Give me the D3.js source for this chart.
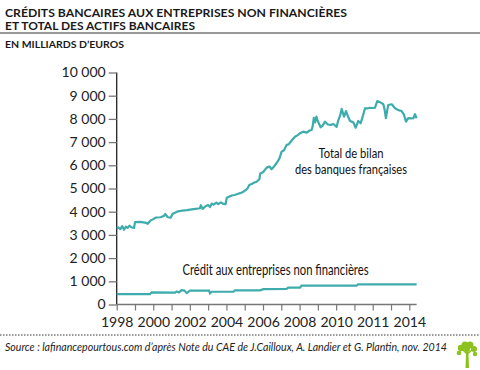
<!DOCTYPE html>
<html>
<head>
<meta charset="utf-8">
<script src="https://cdn.jsdelivr.net/npm/d3@7"></script>
<style>
  body { margin: 0; background: #fff; }
  svg { display: block; }
</style>
</head>
<body>
<svg id="chart" width="480" height="370" viewBox="0 0 480 370"></svg>
<script>
// Total de bilan des banques françaises (Md€), [année, valeur]
const totalBilan = [
  [1998.00,3280],[1998.10,3320],[1998.20,3250],[1998.30,3380],[1998.40,3220],[1998.50,3350],
  [1998.60,3300],[1998.70,3400],[1998.80,3330],[1998.95,3300],[1999.00,3550],[1999.30,3560],
  [1999.60,3520],[1999.70,3480],[1999.85,3620],[2000.00,3680],[2000.15,3750],[2000.40,3760],
  [2000.60,3830],[2000.65,3900],[2000.80,3760],[2000.95,3740],[2001.05,3900],[2001.30,4000],
  [2001.60,4050],[2001.85,4070],[2002.10,4100],[2002.40,4130],[2002.55,4150],[2002.60,4280],
  [2002.70,4120],[2002.85,4230],[2003.00,4290],[2003.10,4200],[2003.20,4350],[2003.30,4300],
  [2003.45,4390],[2003.55,4330],[2003.70,4400],[2003.80,4350],[2003.95,4320],[2004.02,4600],
  [2004.15,4650],[2004.30,4700],[2004.45,4720],[2004.60,4760],[2004.75,4800],[2004.90,4850],
  [2005.05,4930],[2005.15,5000],[2005.25,5150],[2005.35,5180],[2005.50,5250],[2005.65,5290],
  [2005.80,5400],[2005.85,5650],[2006.00,5700],[2006.20,5900],[2006.35,5950],[2006.47,5830],
  [2006.60,5950],[2006.75,6100],[2006.90,6300],[2007.02,6590],[2007.15,6650],[2007.29,6880],
  [2007.40,6900],[2007.47,6970],[2007.60,7100],[2007.75,7230],[2007.90,7300],[2008.02,7380],
  [2008.20,7450],[2008.39,7410],[2008.55,7500],[2008.66,7520],[2008.72,7700],[2008.78,8050],
  [2008.85,7850],[2008.92,8100],[2009.00,7900],[2009.15,7640],[2009.25,7700],[2009.39,7880],
  [2009.55,7760],[2009.70,7740],[2009.85,7780],[2010.03,7660],[2010.12,7950],[2010.22,8150],
  [2010.30,8430],[2010.43,8100],[2010.54,8340],[2010.65,8100],[2010.76,7910],[2010.94,7850],
  [2011.07,7620],[2011.21,7910],[2011.34,7810],[2011.45,8100],[2011.58,8460],[2011.70,8450],
  [2011.85,8480],[2012.00,8470],[2012.12,8480],[2012.25,8770],[2012.40,8720],[2012.58,8630],
  [2012.65,8400],[2012.72,8030],[2012.80,8400],[2012.85,8600],[2013.04,8630],[2013.22,8460],
  [2013.40,8380],[2013.58,8340],[2013.70,8200],[2013.82,7880],[2013.94,8030],[2014.10,8020],
  [2014.22,8030],[2014.31,8200],[2014.40,8030]
];

// Crédit aux entreprises non financières (Md€)
const creditEntreprises = [
  [1998.00,450],[1999.82,450],[1999.91,520],[2001.20,510],[2001.28,560],[2001.40,520],
  [2001.55,620],[2001.70,600],[2001.83,490],[2002.01,600],[2003.05,600],[2003.10,480],
  [2003.20,550],[2004.38,550],[2004.47,610],[2005.84,610],[2006.02,660],[2007.29,670],
  [2007.38,730],[2008.02,730],[2008.11,810],[2011.12,810],[2011.20,870],[2014.40,870]
];

const yearTicks = d3.range(1998, 2015);
// étiquettes telles qu'imprimées sur l'original (une année sur deux)
const yearLabels = ["1998","2000","2002","2004","2006","2008","2010","2011","2014"];
const valueTicks = d3.range(0, 10001, 1000);

const teal = "#3eacac";
const svg = d3.select("#chart");

const x = d3.scaleLinear().domain([1998, 2014]).range([116.7, 409.3]);
const y = d3.scaleLinear().domain([0, 10000]).range([304.5, 72.5]);

const fr = d3.formatLocale({decimal: ",", thousands: "\u00a0", grouping: [3], currency: ["", " €"]});
const fmt = fr.format(",d");

// titre
const title = svg.append("g").attr("font-family", "Lato, 'DejaVu Sans', sans-serif")
  .attr("font-weight", "bold").attr("fill", "#1a1a1a");
title.append("text").attr("x", 5).attr("y", 16.5).attr("font-size", 12)
  .attr("textLength", 342).attr("lengthAdjust", "spacingAndGlyphs")
  .text("CRÉDITS BANCAIRES AUX ENTREPRISES NON FINANCIÈRES");
title.append("text").attr("x", 5).attr("y", 30).attr("font-size", 12)
  .attr("textLength", 190).attr("lengthAdjust", "spacingAndGlyphs")
  .text("ET TOTAL DES ACTIFS BANCAIRES");
svg.append("line").attr("x1", 0).attr("x2", 480).attr("y1", 33).attr("y2", 33)
  .attr("stroke", "#333").attr("stroke-width", 1);
title.append("text").attr("x", 5).attr("y", 48).attr("font-size", 10)
  .attr("textLength", 119).attr("lengthAdjust", "spacingAndGlyphs")
  .text("EN MILLIARDS D’EUROS");

// axes
const yAxis = svg.append("g").attr("transform", "translate(116.7,0)")
  .call(d3.axisLeft(y).tickValues(valueTicks).tickSize(8).tickPadding(3)
    .tickFormat(d => fmt(d)));
yAxis.select(".domain").attr("stroke", "#222").attr("stroke-width", 1.3).attr("d", `M0,${y(10000)}V${y(0)}`);
yAxis.selectAll(".tick line").attr("stroke", "#777").attr("stroke-width", 1.3);
yAxis.selectAll(".tick text").attr("font-family", "Lato, 'DejaVu Sans', sans-serif")
  .attr("font-size", 14).attr("fill", "#222");

const xAxis = svg.append("g").attr("transform", `translate(0,${y(0)})`)
  .call(d3.axisBottom(x).tickValues(yearTicks).tickSize(6).tickPadding(7)
    .tickFormat((d, i) => i % 2 === 0 ? yearLabels[i / 2] : ""));
xAxis.select(".domain").attr("stroke", "#777").attr("stroke-width", 1.5)
  .attr("d", `M${x(1998)},0H${x(2014.4)}`);
xAxis.selectAll(".tick line").attr("stroke", "#777").attr("stroke-width", 1.2);
xAxis.selectAll(".tick text").attr("font-family", "Lato, 'DejaVu Sans', sans-serif")
  .attr("font-size", 14).attr("fill", "#222");

// séries
const line = d3.line().x(d => x(d[0])).y(d => y(d[1]));
svg.append("path").datum(creditEntreprises).attr("d", line)
  .attr("fill", "none").attr("stroke", teal).attr("stroke-width", 2.2);
svg.append("path").datum(totalBilan).attr("d", line)
  .attr("fill", "none").attr("stroke", teal).attr("stroke-width", 2.2)
  .attr("stroke-linejoin", "round");

// annotations
const lab = svg.append("g").attr("font-family", "'Liberation Sans Narrow', Lato, sans-serif")
  .attr("font-size", 13.5).attr("fill", "#111").attr("text-anchor", "middle");
lab.append("text").attr("x", 351).attr("y", 158).attr("textLength", 65)
  .attr("lengthAdjust", "spacingAndGlyphs").text("Total de bilan");
lab.append("text").attr("x", 351).attr("y", 174).attr("textLength", 112)
  .attr("lengthAdjust", "spacingAndGlyphs").text("des banques françaises");
lab.append("text").attr("x", 275.5).attr("y", 275).attr("font-size", 14.5).attr("textLength", 186)
  .attr("lengthAdjust", "spacingAndGlyphs").text("Crédit aux entreprises non financières");

// pied
svg.append("line").attr("x1", 0).attr("x2", 480).attr("y1", 335).attr("y2", 335)
  .attr("stroke", "#333").attr("stroke-width", 1).attr("stroke-dasharray", "1.5,1.5");
svg.append("text").attr("x", 5).attr("y", 351)
  .attr("font-family", "Lato, 'DejaVu Sans', sans-serif").attr("font-style", "italic")
  .attr("font-size", 11).attr("fill", "#222")
  .attr("textLength", 442).attr("lengthAdjust", "spacingAndGlyphs")
  .text("Source : lafinancepourtous.com d’après Note du CAE de J.Cailloux, A. Landier et G. Plantin, nov. 2014");

// petit arbre (logo)
const tree = svg.append("g").attr("fill", "#8cc21e").attr("transform", "translate(467,352)");
tree.append("path").attr("d", "M-1.5,16 L-1,2 L-5,-2 L-4,-3 L-0.5,0 L0,-4 L1.5,-4 L1.5,0 L5,-3 L6,-2 L1.5,2 L2,16 Z");
[[-6,-4,3.2],[-2,-7,3.5],[3,-7,3.5],[7,-3,3],[0,-3,3],[-8,1,2.3],[8,2,2.2]].forEach(c => {
  tree.append("circle").attr("cx", c[0]).attr("cy", c[1]).attr("r", c[2]);
});
</script>
</body>
</html>
